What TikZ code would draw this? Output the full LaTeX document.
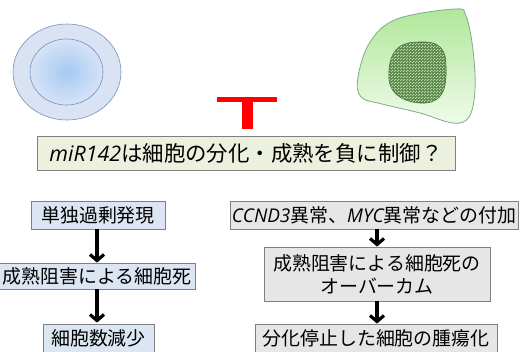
\documentclass[tikz,border=0pt]{standalone}
\usepackage{fontspec}
\setmainfont{Noto Sans CJK JP}
\newfontfamily\latin{Open Sans}
\usetikzlibrary{arrows.meta,patterns}
\newcommand{\gene}[1]{{\latin\itshape #1}}

% fine checker texture for the condensed nucleus
\pgfdeclarepatternformonly{finecheck}{\pgfpointorigin}{\pgfpoint{2.6pt}{2.6pt}}{\pgfpoint{2.6pt}{2.6pt}}{%
  \pgfpathrectangle{\pgfpointorigin}{\pgfpoint{1.3pt}{1.3pt}}%
  \pgfpathrectangle{\pgfpoint{1.3pt}{1.3pt}}{\pgfpoint{1.3pt}{1.3pt}}%
  \pgfusepath{fill}}

\definecolor{cellblueout}{HTML}{D9E3F4}
\definecolor{cellbluein}{HTML}{A6C9F2}
\definecolor{cellblueedge}{HTML}{D6E3F7}
\definecolor{bluestroke}{HTML}{7890BA}
\definecolor{greentop}{HTML}{B0E799}
\definecolor{greenbot}{HTML}{EFFBE9}
\definecolor{greenstroke}{HTML}{7FA88E}
\definecolor{nucfill}{HTML}{5A8748}
\definecolor{nucdot}{HTML}{BCDAAE}
\definecolor{titlefill}{HTML}{EBF1DE}
\definecolor{bluebox}{HTML}{DCE6F2}
\definecolor{graybox}{HTML}{E6E6E6}
\definecolor{boxstroke}{HTML}{7F7F7F}

\tikzset{
  labelbox/.style={draw=boxstroke, line width=0.8bp, inner sep=0pt, align=center,
    font=\fontsize{19}{23}\selectfont},
  leftbox/.style={labelbox, fill=bluebox},
  rightbox/.style={labelbox, fill=graybox},
  titlebox/.style={draw=boxstroke, line width=0.8bp, fill=titlefill, inner sep=0pt,
    font=\fontsize{21.5}{25}\selectfont},
  flow/.style={line width=3.2bp, -{Straight Barb[length=6bp,width=14bp,line width=3.2bp]}},
}

\begin{document}
\begin{tikzpicture}[x=1bp,y=-1bp]
\useasboundingbox (0,0) rectangle (523,351);

% undifferentiated cell
\path[draw=bluestroke, line width=0.6bp, fill=cellblueout] (67,72) ellipse (54 and 48);
\shade[inner color=cellbluein, outer color=cellblueedge] (66.5,72) ellipse (36.5 and 33);
\draw[bluestroke, line width=0.6bp] (66.5,72) ellipse (36.5 and 33);

% mature cell with condensed nucleus
\path[draw=greenstroke, line width=0.8bp, top color=greentop, bottom color=greenbot]
  plot[smooth cycle, tension=0.6] coordinates {(455,9) (397,19) (370,42) (358,77) (361,97)
    (382,104) (420,113) (453,123) (469,117) (475,90) (473,50) (466,16)};
\fill[nucfill] plot[smooth cycle, tension=0.7] coordinates {(420,42) (440,47) (446,67) (441,95)
    (420,103) (395,93) (389,70) (398,48)};
\fill[pattern=finecheck, pattern color=nucdot] plot[smooth cycle, tension=0.7]
  coordinates {(420,42) (440,47) (446,67) (441,95) (420,103) (395,93) (389,70) (398,48)};
\draw[nucfill!85!black, line width=0.6bp] plot[smooth cycle, tension=0.7]
  coordinates {(420,42) (440,47) (446,67) (441,95) (420,103) (395,93) (389,70) (398,48)};

% inhibition symbol
\fill[red] (217,97) rectangle (277,101.5);
\fill[red] (242,97) rectangle (253,129);

% question
\node[titlebox, minimum width=418bp, minimum height=34bp] (q) at (246,153)
  {\gene{miR142}は細胞の分化・成熟を負に制御？};

% left column
\node[leftbox, minimum width=134bp, minimum height=28bp] (l1) at (98,215) {単独過剰発現};
\node[leftbox, minimum width=197bp, minimum height=26bp] (l2) at (97,276) {成熟阻害による細胞死};
\node[leftbox, minimum width=111bp, minimum height=28bp] (l3) at (98.5,338) {細胞数減少};
\draw[flow] (l1.south -| l2.north) -- (l2.north);
\draw[flow] (l2.south) -- ([yshift=1bp]l3.north -| l2.south);

% right column
\node[rightbox, minimum width=288bp, minimum height=28bp] (r1) at (374,215)
  {\gene{CCND3}異常、\gene{MYC}異常などの付加};
\node[rightbox, minimum width=226bp, minimum height=54bp] (r2) at (377,274)
  {成熟阻害による細胞死の\\オーバーカム};
\node[rightbox, minimum width=242bp, minimum height=28bp] (r3) at (376,338)
  {分化停止した細胞の腫瘍化};
\draw[flow] (r1.south -| r2.north) -- (r2.north);
\draw[flow] (r2.south) -- (r3.north -| r2.south);
\end{tikzpicture}
\end{document}
